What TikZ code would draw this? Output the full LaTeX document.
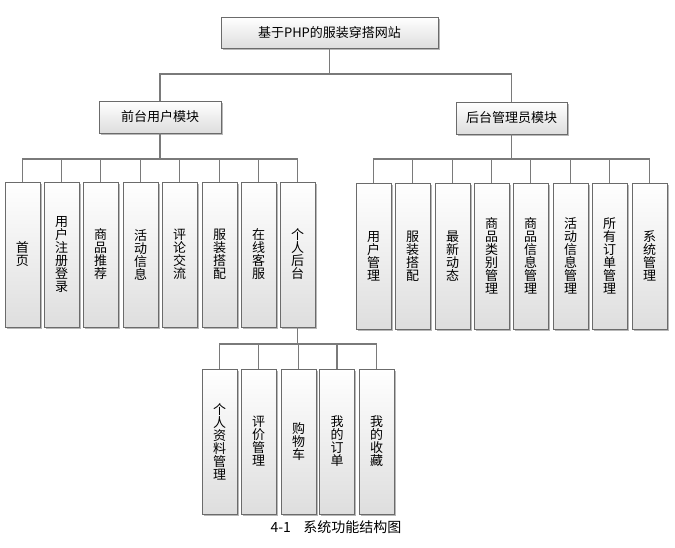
\documentclass[tikz,border=0pt]{standalone}
\usepackage{fontspec}
\setmainfont{Noto Sans CJK SC}
\begin{document}
\begin{tikzpicture}[x=1pt,y=-1pt,
  box/.style={draw=black!58, line width=0.9pt, top color=white, bottom color=black!13,
    preaction={fill=black!28, transform canvas={xshift=1.6pt,yshift=-1.6pt}},
    inner sep=0pt, align=center, font=\fontsize{13}{13}\selectfont},
  hbox/.style={box, minimum height=31pt},
  vbox/.style={box, minimum width=35pt, minimum height=145pt, text width=14pt},
  link/.style={draw=black!52, line width=1.1pt},
  caption/.style={font=\fontsize{14}{15}\selectfont, inner sep=0pt}]
\useasboundingbox[fill=white] (0,0) rectangle (675,547);

% root and modules
\node[hbox, minimum width=217pt] (root) at (329.5,32.5) {基于PHP的服装穿搭网站};
\node[hbox, minimum width=122pt, minimum height=32pt] (front) at (160,117) {前台用户模块};
\node[hbox, minimum width=111pt, minimum height=32pt] (admin) at (511.5,118) {后台管理员模块};

% front leaves
\node[vbox] (f1) at (22.5,254.5) {首\\页};
\node[vbox] (f2) at (61.5,254.5) {用\\户\\注\\册\\登\\录};
\node[vbox] (f3) at (100.5,254.5) {商\\品\\推\\荐};
\node[vbox] (f4) at (140.5,254.5) {活\\动\\信\\息};
\node[vbox] (f5) at (179.5,254.5) {评\\论\\交\\流};
\node[vbox] (f6) at (219.5,254.5) {服\\装\\搭\\配};
\node[vbox] (f7) at (258.5,254.5) {在\\线\\客\\服};
\node[vbox] (f8) at (297.5,254.5) {个\\人\\后\\台};

% admin leaves
\node[vbox, minimum height=146pt] (a1) at (373.5,256) {用\\户\\管\\理};
\node[vbox, minimum height=146pt] (a2) at (412.5,256) {服\\装\\搭\\配};
\node[vbox, minimum height=146pt] (a3) at (452.5,256) {最\\新\\动\\态};
\node[vbox, minimum height=146pt] (a4) at (491.5,256) {商\\品\\类\\别\\管\\理};
\node[vbox, minimum height=146pt] (a5) at (530.5,256) {商\\品\\信\\息\\管\\理};
\node[vbox, minimum height=146pt] (a6) at (570.5,256) {活\\动\\信\\息\\管\\理};
\node[vbox, minimum height=146pt] (a7) at (609.5,256) {所\\有\\订\\单\\管\\理};
\node[vbox, minimum height=146pt] (a8) at (649.5,256) {系\\统\\管\\理};

% personal backend leaves
\node[vbox] (p1) at (219.5,441.5) {个\\人\\资\\料\\管\\理};
\node[vbox] (p2) at (258.5,441.5) {评\\价\\管\\理};
\node[vbox] (p3) at (298.5,441.5) {购\\物\\车};
\node[vbox] (p4) at (337,441.5) {我\\的\\订\\单};
\node[vbox] (p5) at (376.5,441.5) {我\\的\\收\\藏};

% connectors
\foreach \c in {front,admin}
  \path[link] (root.south) -- (root.south |- 0,74) -| (\c.north);
\foreach \c in {f1,f2,f3,f4,f5,f6,f7,f8}
  \path[link] (front.south) -- (front.south |- 0,159) -| (\c.north);
\foreach \c in {a1,a2,a3,a4,a5,a6,a7,a8}
  \path[link] (admin.south) -- (admin.south |- 0,159) -| (\c.north);
\foreach \c in {p1,p2,p3,p4,p5}
  \path[link] (f8.south) -- (f8.south |- 0,344) -| (\c.north);

\node[caption] (cap) at (336,527.5) {4-1\hspace{0.9em}系统功能结构图};
\end{tikzpicture}
\end{document}
